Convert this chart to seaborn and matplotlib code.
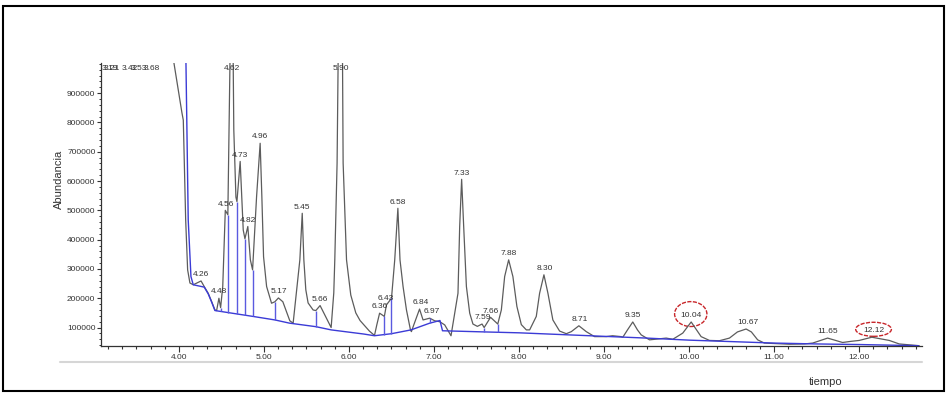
# chromatogram (abundancia vs tiempo) with peak labels
import numpy as np
import pandas as pd
import matplotlib
matplotlib.use('Agg')
from matplotlib import pyplot as plt
from matplotlib.patches import Rectangle, Ellipse
from matplotlib.lines import Line2D
from matplotlib.ticker import MultipleLocator, FuncFormatter
import seaborn as sns

# trace: time (min) and abundance
trace_time = [3.92, 3.941, 4.035, 4.051, 4.079, 4.102, 4.129, 4.168, 4.26, 4.297,
              4.344, 4.384, 4.423, 4.443, 4.47, 4.49, 4.515, 4.545, 4.575, 4.60,
              4.62, 4.638, 4.645, 4.67, 4.682, 4.72, 4.756, 4.776, 4.81, 4.84,
              4.866, 4.913, 4.955, 4.975, 4.995, 5.031, 5.089, 5.128, 5.17, 5.222,
              5.304, 5.343, 5.402, 5.422, 5.45, 5.469, 5.492, 5.519, 5.578, 5.61,
              5.66, 5.716, 5.79, 5.821, 5.833, 5.86, 5.872, 5.90, 5.924, 5.931,
              5.971, 6.021, 6.08, 6.13, 6.24, 6.30, 6.327, 6.36, 6.416, 6.44,
              6.50, 6.538, 6.575, 6.60, 6.636, 6.676, 6.723, 6.734, 6.762, 6.83,
              6.871, 6.95, 7.008, 7.067, 7.126, 7.20, 7.282, 7.302, 7.325, 7.349,
              7.381, 7.42, 7.458, 7.51, 7.565, 7.59, 7.665, 7.75, 7.792, 7.831,
              7.878, 7.928, 7.975, 8.027, 8.086, 8.125, 8.203, 8.242, 8.293, 8.34,
              8.398, 8.477, 8.556, 8.615, 8.704, 8.791, 8.888, 9.026, 9.10, 9.202,
              9.221, 9.276, 9.338, 9.393, 9.437, 9.535, 9.731, 9.809, 9.926, 10.025,
              10.142, 10.24, 10.357, 10.475, 10.569, 10.671, 10.733, 10.807, 10.886, 11.18,
              11.356, 11.454, 11.63, 11.806, 11.908, 12.002, 12.15, 12.355, 12.472, 12.707]
trace_abund = [1120000, 1003000, 833000, 808000, 467000, 297000, 252000, 246000, 259000, 240000,
               217000, 189000, 160000, 158000, 200000, 168000, 240000, 500000, 485000, 1003000,
               1250000, 1003000, 775000, 545000, 530000, 667000, 433000, 403000, 445000, 331000,
               297000, 547000, 729000, 547000, 342000, 240000, 183000, 188000, 201000, 188000,
               123000, 115000, 274000, 331000, 490000, 331000, 229000, 184000, 160000, 158000,
               175000, 143000, 100000, 218000, 331000, 662000, 1003000, 1250000, 1003000, 662000,
               331000, 211000, 150000, 124000, 88000, 73000, 109000, 149000, 138000, 177000,
               200000, 331000, 507000, 331000, 240000, 160000, 92000, 86000, 109000, 163000,
               126000, 132000, 123000, 120000, 109000, 72000, 217000, 445000, 606000, 445000,
               240000, 149000, 112000, 104000, 112000, 100000, 135000, 112000, 160000, 274000,
               331000, 274000, 172000, 110000, 92000, 92000, 138000, 217000, 280000, 217000,
               126000, 88000, 79000, 86000, 106000, 86000, 69000, 69000, 72000, 69000,
               67000, 92000, 119000, 92000, 75000, 58000, 64000, 60000, 81000, 119000,
               69000, 56000, 55000, 64000, 85000, 95000, 85000, 58000, 47000, 43000,
               44000, 47000, 64000, 49000, 53000, 56000, 67000, 56000, 44000, 38000]

# integration baseline (blue)
base_time = [4.08, 4.109, 4.141, 4.168, 4.297, 4.344, 4.384, 4.423, 4.87, 5.128,
             5.30, 5.61, 5.79, 6.17, 6.30, 6.50, 6.73, 6.95, 7.07, 7.10,
             7.60, 8.00, 8.50, 9.00, 9.50, 10.00, 10.50, 11.00, 11.50, 12.00, 12.70]
base_abund = [1050000, 467000, 274000, 246000, 238000, 215000, 187000, 158000, 138000, 126000,
              115000, 103000, 92000, 78000, 72000, 79000, 92000, 115000, 124000, 89000,
              85000, 82000, 76000, 70000, 64000, 57000, 52000, 47000, 44000, 42000, 38000]

# drop lines between integrated peaks
drop_time = [4.49, 4.575, 4.682, 4.776, 4.866, 5.128, 5.61, 6.416, 6.50, 6.95, 7.59, 7.75]

# peak labels (off-scale peaks sit at the top)
peak_label = ['3.19', '3.21', '3.42', '3.53', '3.68', '4.26', '4.48', '4.56', '4.62', '4.73',
              '4.82', '4.96', '5.17', '5.45', '5.66', '5.90', '6.36', '6.43', '6.58', '6.84',
              '6.97', '7.33', '7.59', '7.66', '7.88', '8.30', '8.71', '9.35', '10.04', '10.67',
              '11.65', '12.12']
peak_time = [3.19, 3.21, 3.42, 3.53, 3.68, 4.26, 4.47, 4.55, 4.62, 4.72,
             4.81, 4.955, 5.17, 5.45, 5.66, 5.90, 6.36, 6.43, 6.58, 6.84,
             6.97, 7.33, 7.57, 7.67, 7.88, 8.30, 8.71, 9.34, 10.02, 10.69,
             11.63, 12.17]
peak_abund = [1500000, 1500000, 1500000, 1500000, 1500000, 259000, 200000, 500000, 1250000, 667000,
              445000, 729000, 201000, 490000, 175000, 1250000, 149000, 177000, 507000, 163000,
              132000, 606000, 112000, 135000, 331000, 280000, 106000, 119000, 119000, 95000,
              64000, 67000]

circled = {'10.04': (0.38, 85000), '12.12': (0.42, 48000)}

trace_df = pd.DataFrame({'tiempo': trace_time, 'abundancia': trace_abund})
base_df = pd.DataFrame({'tiempo': base_time, 'abundancia': base_abund})

sns.set_theme(style='white')
plt.rcParams['font.family'] = ['Liberation Sans', 'DejaVu Sans']

fig = plt.figure(figsize=(9.49, 3.94), dpi=100)
ax = fig.add_axes([101 / 949, 1 - 346 / 394, 821 / 949, 283 / 394])
ymin, ymax = 37000, 1003000
ax.set_xlim(3.083, 12.74)
ax.set_ylim(ymin, ymax)

sns.lineplot(data=trace_df, x='tiempo', y='abundancia', ax=ax, color='#5c5c5c',
             lw=0.9, sort=False, estimator=None)
sns.lineplot(data=base_df, x='tiempo', y='abundancia', ax=ax, color='#3b3bd6',
             lw=1.0, sort=False, estimator=None)

# vertical drop lines from baseline up to the trace
drop_lo = np.interp(drop_time, base_time, base_abund)
drop_hi = np.interp(drop_time, trace_time, trace_abund)
ax.vlines(drop_time, drop_lo, drop_hi, color='#5a5ae0', lw=1.0)

for lab, t, h in zip(peak_label, peak_time, peak_abund):
    if h >= ymax:
        ax.annotate(lab, (t, ymax), xytext=(0, -3.6), textcoords='offset points',
                    ha='center', va='center', fontsize=6, color='#333333',
                    annotation_clip=False)
    else:
        ax.annotate(lab, (t, h), xytext=(0, 2), textcoords='offset points',
                    ha='center', va='bottom', fontsize=6, color='#333333')
    if lab in circled:
        w, hh = circled[lab]
        ax.add_patch(Ellipse((t, h + 27000), w, hh, fill=False, ec='#c8262a',
                             lw=1.0, ls=(0, (3, 1))))

# axes styling
for s in ['top', 'right']:
    ax.spines[s].set_visible(False)
for s in ['left', 'bottom']:
    ax.spines[s].set_color('#333333')
    ax.spines[s].set_linewidth(0.9)

ax.set_xticks(np.arange(4, 13))
ax.xaxis.set_major_formatter(FuncFormatter(lambda v, p: f'{v:.2f}'))
ax.xaxis.set_minor_locator(MultipleLocator(1 / 6))
ax.set_yticks(np.arange(100000, 1000000, 100000))
ax.yaxis.set_major_formatter(FuncFormatter(lambda v, p: f'{int(v)}'))
ax.yaxis.set_minor_locator(MultipleLocator(20000))
ax.tick_params(axis='x', which='major', direction='out', length=4, width=0.8,
               colors='#333333', labelsize=6, pad=2, bottom=True)
ax.tick_params(axis='x', which='minor', direction='out', length=2.5, width=0.8,
               color='#333333', bottom=True)
ax.tick_params(axis='y', which='major', direction='out', length=3, width=0.8,
               colors='#333333', labelsize=6, pad=1, left=True)
ax.tick_params(axis='y', which='minor', direction='out', length=1.8, width=0.7,
               color='#333333', left=True)

ax.set_xlabel('tiempo', fontsize=8, color='#333333')
ax.xaxis.set_label_coords(0.883, -0.11)
ax.set_ylabel('Abundancia', fontsize=8, color='#333333')
ax.yaxis.set_label_coords(-0.0445, 0.59)

# light rule under the tick labels and the outer frame
fig.add_artist(Line2D([60 / 949, 922 / 949], [1 - 362 / 394] * 2,
                      transform=fig.transFigure, color='#d6d6d6', lw=1.5))
fig.add_artist(Rectangle((3 / 949, 3 / 394), 941 / 949, 385 / 394,
                         transform=fig.transFigure, fill=False, ec='black', lw=1.5))

plt.savefig('out.png', dpi=100)
